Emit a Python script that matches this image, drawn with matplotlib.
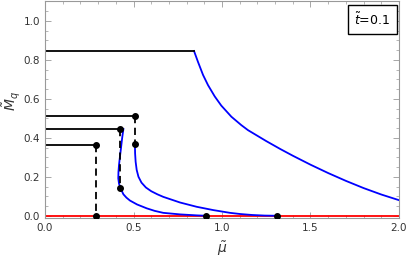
import numpy as np
import matplotlib.pyplot as plt
from matplotlib.ticker import MultipleLocator

# outer branch (starts at end of top plateau)
mu_a = [0.842, 0.864, 0.893, 0.921, 0.959, 0.996, 1.053, 1.109, 1.147, 1.25, 1.33,
        1.4, 1.5, 1.6, 1.7, 1.8, 1.9, 2.0]
M_a = [0.845, 0.790, 0.722, 0.670, 0.612, 0.565, 0.508, 0.465, 0.439, 0.383, 0.342,
       0.308, 0.262, 0.219, 0.179, 0.142, 0.109, 0.080]

# middle branch (from lower jump point at mu ~ 0.508)
mu_b = [0.508, 0.509, 0.512, 0.518, 0.528, 0.545, 0.57, 0.6, 0.635, 0.668, 0.763, 0.857,
        0.951, 1.045, 1.102, 1.17, 1.24, 1.309]
M_b = [0.366, 0.32, 0.277, 0.235, 0.2, 0.17, 0.145, 0.126, 0.11, 0.097, 0.068, 0.046,
       0.029, 0.015, 0.009, 0.004, 0.001, 0.0]

# S-shaped branch
mu_c = [0.443, 0.436, 0.429, 0.423, 0.418, 0.415, 0.414, 0.418, 0.427, 0.443, 0.46,
        0.48, 0.52, 0.575, 0.62, 0.668, 0.763, 0.857, 0.91]
M_c = [0.445, 0.40, 0.345, 0.30, 0.26, 0.225, 0.192, 0.165, 0.14, 0.11, 0.093,
       0.078, 0.058, 0.038, 0.025, 0.015, 0.007, 0.002, 0.0]

# plateaus (black horizontals) and jumps (dashed)
plateau_M = [0.845, 0.511, 0.445, 0.362]
plateau_end = [0.842, 0.508, 0.424, 0.288]
jump_mu = [0.508, 0.424, 0.288]
jump_top = [0.511, 0.445, 0.362]
jump_bot = [0.366, 0.14, 0.0]
zero_dots = [0.91, 1.309]

fig = plt.figure(figsize=(4.07, 2.59), dpi=100)
ax = fig.add_axes([0.1106, 0.1564, 0.8697, 0.8416])

ax.plot([0, 2], [0, 0], color='red', lw=1.3, zorder=2)
ax.plot(mu_a, M_a, color='blue', lw=1.3)
ax.plot(mu_b, M_b, color='blue', lw=1.3)
ax.plot(mu_c, M_c, color='blue', lw=1.3)

for m, e in zip(plateau_M, plateau_end):
    ax.plot([0, e], [m, m], color='black', lw=1.3)
for x, t, b in zip(jump_mu, jump_top, jump_bot):
    ax.plot([x, x], [t, b], color='black', lw=1.3, ls=(0, (4, 2.5)))
    ax.plot([x, x], [t, b], 'o', color='black', ms=4, zorder=5)
ax.plot(zero_dots, [0, 0], 'o', color='black', ms=4, zorder=5)

ax.set_xlim(0, 2)
ax.set_ylim(-0.014, 1.104)
ax.xaxis.set_major_locator(MultipleLocator(0.5))
ax.xaxis.set_minor_locator(MultipleLocator(0.1))
ax.yaxis.set_major_locator(MultipleLocator(0.2))
ax.yaxis.set_minor_locator(MultipleLocator(0.05))
ax.xaxis.set_major_formatter(plt.FuncFormatter(lambda v, p: f'{v:.1f}'))
ax.yaxis.set_major_formatter(plt.FuncFormatter(lambda v, p: f'{v:.1f}'))
ax.tick_params(which='both', direction='in', top=True, right=True,
               color='#999999', labelsize=7.5, labelcolor='#333333')
ax.tick_params(which='major', length=4, width=0.6)
ax.tick_params(which='minor', length=2.5, width=0.5)
for s in ax.spines.values():
    s.set_color('#999999')
    s.set_linewidth(0.8)

ax.set_xlabel(r'$\tilde{\mu}$', fontsize=10, color='#333333')
ax.set_ylabel(r'$\tilde{M}_q$', fontsize=10, color='#333333')
ax.xaxis.set_label_coords(0.5, -0.095)
ax.yaxis.set_label_coords(-0.065, 0.54)

ax.text(0.925, 0.913, r'$\tilde{t}$=0.1', transform=ax.transAxes, ha='center', va='center',
        fontsize=9, bbox=dict(boxstyle='square,pad=0.5', fc='white', ec='black', lw=1))

fig.savefig('out.png', dpi=100)
